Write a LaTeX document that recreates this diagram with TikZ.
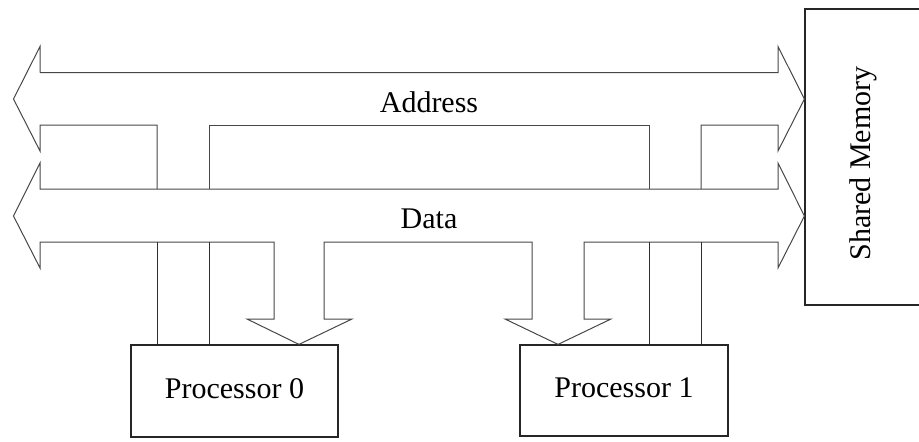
\documentclass[tikz,border=0pt]{standalone}
\usepackage{fontspec}
\setmainfont{Liberation Serif}
\begin{document}
\begin{tikzpicture}[x=1pt,y=-1pt,line join=miter,
  bus/.style={draw=black!72,line width=1pt},
  wire/.style={draw=black!82,line width=1pt},
  unit/.style={draw=black!85,line width=1.2pt,rectangle,inner sep=0pt,
    font=\fontsize{30}{36}\selectfont,text height=20pt,text depth=6pt},
  lbl/.style={font=\fontsize{30}{36}\selectfont,anchor=base,inner sep=0pt}]
\clip (0,0) rectangle (919,442);

% processors and memory
\node[unit,minimum width=207pt,minimum height=92pt] (p0) at (234.5,391) {Processor 0};
\node[unit,minimum width=208pt,minimum height=91pt] (p1) at (624,390.5) {Processor 1};
\node[unit,minimum width=140pt,minimum height=296pt] (mem) at (875,157) {};
\node[lbl,rotate=90] (memtext) at (870,163.5) {Shared Memory};

% address bus outline (top edge and heads), then its lower edge with two drops
\draw[bus] (40,72.7) -- (40,46.5) -- (13.5,99) -- (40,151) -- (40,125) -- (157,125) -- (157,189);
\draw[bus] (209,189) -- (209,125) -- (649,125) -- (649,189);
\draw[bus] (701,189) -- (701,125) -- (778,125) -- (778,151) -- (mem.west |- 0,99)
  -- (778,46.5) -- (778,72.7) -- (40,72.7);
\node[lbl] (addr) at (429,112.7) {Address};

% data bus, with one arrow into each processor
\draw[bus] (40,189) -- (40,163) -- (13.5,216) -- (40,268) -- (40,242) -- (274,242) -- (274,319)
  -- (247,319) -- (p0.north -| 299,0) -- (352,319) -- (324,319) -- (324,242)
  -- (532,242) -- (532,319) -- (505,319) -- (p1.north -| 558,0) -- (611,319)
  -- (584,319) -- (584,242) -- (778,242) -- (778,268) -- (mem.west |- 0,216)
  -- (778,163) -- (778,189) -- cycle;
\node[lbl] (data) at (429,228) {Data};

% address lines from the bus down to each processor
\coordinate (a0) at (157,242);
\coordinate (a1) at (209,242);
\coordinate (a2) at (649,242);
\coordinate (a3) at (701,242);
\draw[wire] (a0) -- (a0 |- p0.north);
\draw[wire] (a1) -- (a1 |- p0.north);
\draw[wire] (a2) -- (a2 |- p1.north);
\draw[wire] (a3) -- (a3 |- p1.north);
\end{tikzpicture}
\end{document}
